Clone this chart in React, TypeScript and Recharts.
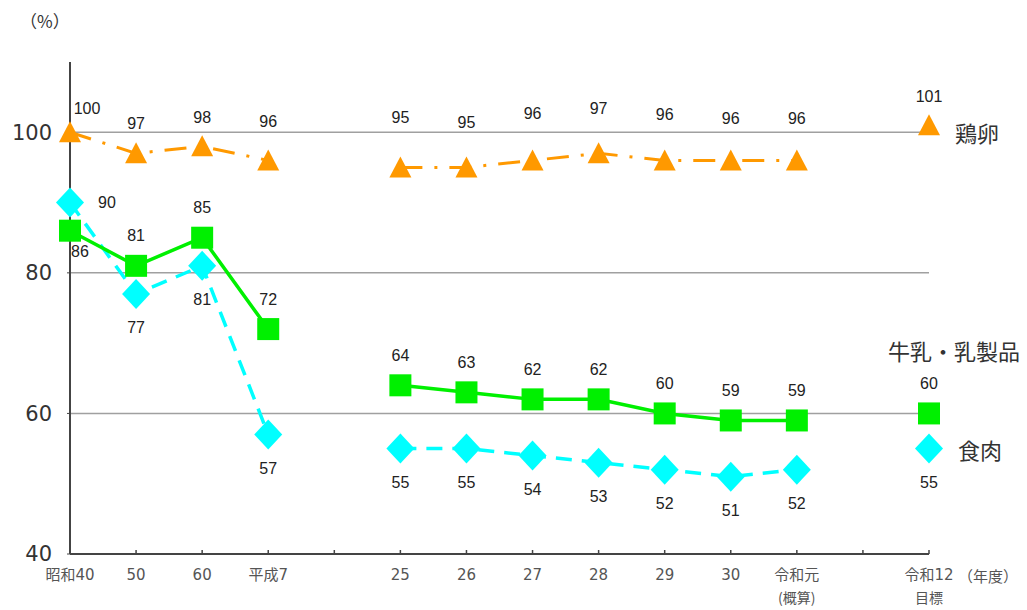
import { LineChart, Line, XAxis, YAxis, CartesianGrid } from 'recharts';

// x slots: 4 and 12 are empty spacers between the period groups
const slots = [0, 1, 2, 3, 4, 5, 6, 7, 8, 9, 10, 11, 12, 13];
const xLabels = ['昭和40', '50', '60', '平成7', '', '25', '26', '27', '28', '29', '30', '令和元', '', '令和12'];
const xSubLabels = ['', '', '', '', '', '', '', '', '', '', '', '(概算)', '', '目標'];

const eggs = [100, 97, 98, 96, null, 95, 95, 96, 97, 96, 96, 96, null, 101];
const dairy = [86, 81, 85, 72, null, 64, 63, 62, 62, 60, 59, 59, null, 60];
const meat = [90, 77, 81, 57, null, 55, 55, 54, 53, 52, 51, 52, null, 55];

const yTicks = [40, 60, 80, 100];
const gridValues = [60, 80, 100];

const data = slots.map((slot, i) => ({
  slot,
  eggs: eggs[i],
  dairy: dairy[i],
  meat: meat[i],
}));

const ORANGE = '#FF9900';
const GREEN = '#00F000';
const CYAN = '#00FFFF';
const NUM_FONT = '"Liberation Sans", Arial, "Noto Sans CJK JP", sans-serif';
const AXIS_FONT = '"DejaVu Sans", "Noto Sans CJK JP", sans-serif';
const JP_FONT = '"Noto Sans CJK JP", sans-serif';

// vertical nudges for the egg value labels (Excel-style hand placement)
const eggLabelDy = [-24, -30, -29, -39, 0, -50, -45, -47, -45, -46, -42, -42, 0, -29];

interface DotProps {
  cx?: number | null;
  cy?: number | null;
  index: number;
  payload?: Record<string, number | null>;
}

function ValueText({ x, y, v }: { x: number; y: number; v: number }) {
  return (
    <text x={x} y={y} textAnchor="middle" dominantBaseline="central"
      fontSize={16} fontFamily={NUM_FONT} fill="#222">
      {v}
    </text>
  );
}

function NameText({ x, y, text, anchor = 'start' }: { x: number; y: number; text: string; anchor?: string }) {
  return (
    <text x={x} y={y} textAnchor={anchor as 'start'} dominantBaseline="central"
      fontSize={22} fontFamily={JP_FONT} fill="#333">
      {text}
    </text>
  );
}

const last = slots.length - 1;

function eggDot(p: DotProps) {
  const v = p.payload?.eggs;
  if (p.cx == null || p.cy == null || v == null) return <g key={`e-${p.index}`} />;
  const { cx, cy, index } = p;
  const dx = index === 0 ? 17 : 0;
  return (
    <g key={`e-${index}`}>
      <polygon points={`${cx},${cy - 11} ${cx + 11},${cy + 10} ${cx - 11},${cy + 10}`} fill={ORANGE} />
      <ValueText x={cx + dx} y={cy + eggLabelDy[index]} v={v} />
      {index === last && <NameText x={cx + 26} y={cy + 7} text="鶏卵" />}
    </g>
  );
}

function dairyDot(p: DotProps) {
  const v = p.payload?.dairy;
  if (p.cx == null || p.cy == null || v == null) return <g key={`d-${p.index}`} />;
  const { cx, cy, index } = p;
  const first = index === 0;
  return (
    <g key={`d-${index}`}>
      <rect x={cx - 11} y={cy - 11} width={22} height={22} fill={GREEN} />
      <ValueText x={cx + (first ? 10 : 0)} y={cy + (first ? 21 : -30)} v={v} />
      {index === last && <NameText x={cx + 25} y={cy - 63} text="牛乳・乳製品" anchor="middle" />}
    </g>
  );
}

function meatDot(p: DotProps) {
  const v = p.payload?.meat;
  if (p.cx == null || p.cy == null || v == null) return <g key={`m-${p.index}`} />;
  const { cx, cy, index } = p;
  const first = index === 0;
  return (
    <g key={`m-${index}`}>
      <polygon points={`${cx},${cy - 15} ${cx + 14},${cy} ${cx},${cy + 15} ${cx - 14},${cy}`} fill={CYAN} />
      <ValueText x={cx + (first ? 37 : 0)} y={cy + (first ? 0 : 34)} v={v} />
      {index === last && <NameText x={cx + 29} y={cy} text="食肉" />}
    </g>
  );
}

function XTick({ x, y, payload }: { x: number; y: number; payload: { value: number } }) {
  const i = payload.value;
  return (
    <g>
      <line x1={x} x2={x} y1={y - 4} y2={y} stroke="#444" strokeWidth={1.5} />
      <text x={x} y={y + 21} textAnchor="middle" dominantBaseline="central"
        fontSize={15} fontFamily={AXIS_FONT} fill="#555">
        {xLabels[i]}
      </text>
      {i === last && (
        <text x={x + 29} y={y + 21} textAnchor="start" dominantBaseline="central"
          fontSize={15} fontFamily={JP_FONT} fill="#555">
          （年度）
        </text>
      )}
      {xSubLabels[i] && (
        <text x={x} y={y + 43} textAnchor="middle" dominantBaseline="central"
          fontSize={14} fontFamily={JP_FONT} fill="#555">
          {xSubLabels[i]}
        </text>
      )}
    </g>
  );
}

export default function App() {
  return (
    <div style={{ position: 'absolute', left: 0, top: 0, width: 1027, height: 610, background: '#fff' }}>
      <div style={{ position: 'absolute', left: 20, top: 8, fontSize: 17, fontFamily: JP_FONT, color: '#333' }}>
        （%）
      </div>
      <LineChart width={1027} height={610} data={data}
        margin={{ top: 62, right: 98, left: 10, bottom: 0 }}>
        <CartesianGrid vertical={false} horizontalValues={gridValues} stroke="#a0a0a0" strokeWidth={1.5} />
        <XAxis dataKey="slot" type="number" domain={[0, 13]} ticks={slots}
          interval={0} height={56} tickSize={0} tickMargin={0}
          axisLine={{ stroke: '#444', strokeWidth: 2 }} tickLine={false}
          tick={(props: any) => <XTick {...props} />} />
        <YAxis domain={[40, 110]} ticks={yTicks} width={60} tickSize={3} tickMargin={15}
          axisLine={{ stroke: '#444', strokeWidth: 2 }} tickLine={{ stroke: '#444' }}
          tick={{ fontSize: 21, fontFamily: AXIS_FONT, fill: '#333' }} />
        <Line dataKey="eggs" stroke={ORANGE} strokeWidth={3} strokeDasharray="22 12 3 12"
          connectNulls={false} dot={eggDot} activeDot={false} isAnimationActive={false} />
        <Line dataKey="meat" stroke={CYAN} strokeWidth={3.5} strokeDasharray="16 10"
          connectNulls={false} dot={meatDot} activeDot={false} isAnimationActive={false} />
        <Line dataKey="dairy" stroke={GREEN} strokeWidth={3.5}
          connectNulls={false} dot={dairyDot} activeDot={false} isAnimationActive={false} />
      </LineChart>
    </div>
  );
}
